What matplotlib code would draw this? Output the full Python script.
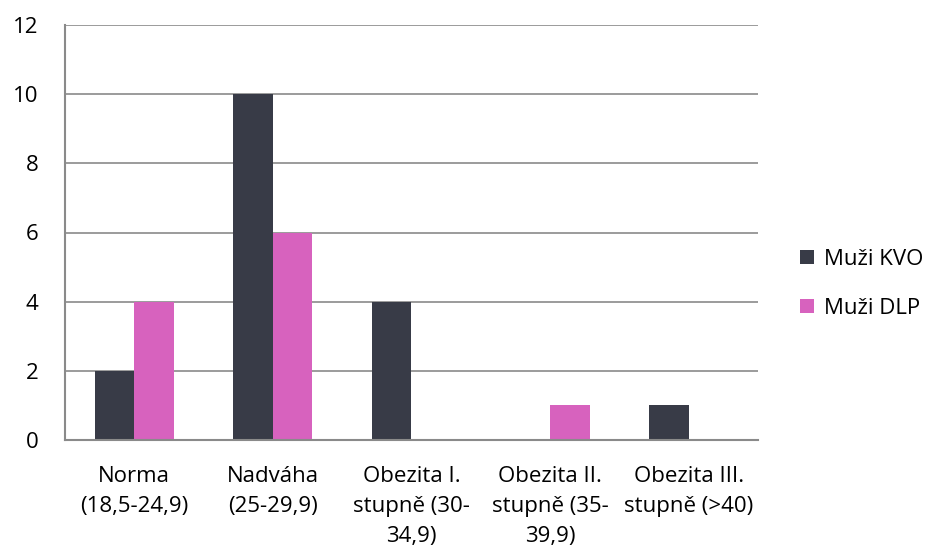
import matplotlib
matplotlib.use("Agg")
import matplotlib.pyplot as plt
import numpy as np
from matplotlib.patches import Patch

plt.rcParams['font.family'] = ['Open Sans', 'DejaVu Sans']

categories = ["Norma\n(18,5-24,9)", "Nadváha\n(25-29,9)", "Obezita I.\nstupně (30-\n34,9)",
              "Obezita II.\nstupně (35-\n39,9)", "Obezita III.\nstupně (>40)"]
series_names = ["Muži KVO", "Muži DLP"]
muzi_kvo = [2, 10, 4, 0, 1]
muzi_dlp = [4, 6, 0, 1, 0]
y_ticks = [0, 2, 4, 6, 8, 10, 12]

col_kvo = "#383b47"
col_dlp = "#d762be"
grid_col = "#8a8a8a"
fs = 16

fig = plt.figure(figsize=(9.29, 5.52), dpi=100)
ax = fig.add_axes([65/929, 1-440/552, (758-65)/929, (440-25)/552])

x = np.arange(len(categories))
w = 0.285
ax.bar(x - w/2, muzi_kvo, width=w, color=col_kvo, zorder=3)
ax.bar(x + w/2, muzi_dlp, width=w, color=col_dlp, zorder=3)

ax.set_xlim(-0.5, len(categories) - 0.5)
ax.set_ylim(0, 12)
ax.set_yticks(y_ticks)
ax.set_yticklabels([str(v) for v in y_ticks], fontsize=fs)
ax.set_xticks(x)
ax.set_xticklabels(categories, fontsize=fs, linespacing=1.55, va='top')
ax.tick_params(axis='both', length=0)
ax.tick_params(axis='y', pad=19)
ax.tick_params(axis='x', pad=19)

ax.grid(axis='y', color=grid_col, linewidth=1.2, zorder=0)
for s in ['top', 'right']:
    ax.spines[s].set_visible(False)
for s in ['left', 'bottom']:
    ax.spines[s].set_color(grid_col)
    ax.spines[s].set_linewidth(1.5)
    ax.spines[s].set_zorder(4)

handles = [Patch(facecolor=col_kvo), Patch(facecolor=col_dlp)]
fig.legend(handles, series_names, loc='center left', bbox_to_anchor=(780/929, 1-284/552),
           frameon=False, fontsize=fs, handlelength=0.62, handleheight=0.62,
           handletextpad=0.45, labelspacing=1.25)

fig.savefig("out.png", dpi=100)
